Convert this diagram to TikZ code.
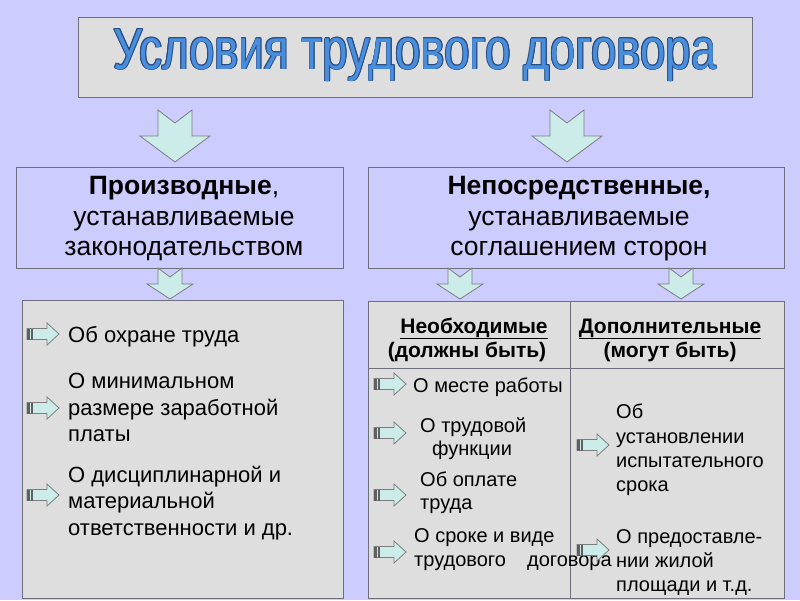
\documentclass[tikz,border=0pt]{standalone}
\usepackage{fontspec}
\setmainfont{Liberation Sans}
\usepackage{graphicx}
\definecolor{bg}{RGB}{204,204,255}
\definecolor{boxgray}{RGB}{222,222,222}
\definecolor{edgegray}{RGB}{110,110,125}
\definecolor{arrfill}{RGB}{204,236,234}
\definecolor{arredge}{RGB}{125,125,125}
\definecolor{tailc}{RGB}{95,95,95}
\definecolor{titleblue}{RGB}{72,142,220}
\definecolor{titledark}{RGB}{40,75,130}
\newcommand\titletext{\resizebox{603pt}{40pt}{\fontsize{56}{56}\selectfont Условия трудового договора}}
\tikzset{
  graybox/.style={draw=edgegray, line width=0.9pt, fill=boxgray, inner sep=0pt},
  lavbox/.style={draw=edgegray, line width=0.9pt, fill=bg, inner sep=0pt},
  arr/.style={draw=arredge, line width=0.8pt, fill=arrfill, line join=miter},
  midtxt/.style={font=\fontsize{26.5}{30}\selectfont, inner sep=0pt, anchor=base},
  lefttxt/.style={font=\fontsize{22}{27}\selectfont, inner sep=0pt, anchor=base west},
  rtxt/.style={font=\fontsize{20}{24}\selectfont, inner sep=0pt, anchor=base west},
  hdtxt/.style={font=\fontsize{21}{24}\selectfont\bfseries, inner sep=0pt, anchor=base},
  bigdown/.pic={\draw[arr] (-17,0) -- (0,13) -- (17,0) -- (17,26) -- (35,26) -- (0,52) -- (-35,26) -- (-17,26) -- cycle;},
  smalldown/.pic={\draw[arr] (-12,0) -- (0,9) -- (12,0) -- (12,16) -- (23,16) -- (0,31) -- (-23,16) -- (-12,16) -- cycle;},
  rarr/.pic={\draw[arr] (0,-5.5) -- (20,-5.5) -- (20,-11) -- (32,0) -- (20,11) -- (20,5.5) -- (0,5.5) -- cycle;
     \fill[tailc] (0,-5.5) rectangle (3,5.5);
     \fill[tailc] (4,-5.5) rectangle (6,5.5);},
}
\begin{document}
\begin{tikzpicture}[x=1pt,y=-1pt]
\path[use as bounding box, fill=bg] (0,0) rectangle (800,600);

% title
\node[graybox, minimum width=674, minimum height=80] (title) at (415,57) {};
\foreach \dx/\dy [count=\i] in {0.8/0,-0.8/0,0/0.8,0/-0.8,0.55/0.55,-0.55/0.55,0.55/-0.55,-0.55/-0.55}
  \node[inner sep=0pt, anchor=base, text=titledark] (tsh\i) at (415+\dx,69+\dy) {\titletext};
\node[inner sep=0pt, anchor=base, text=titleblue] (ttext) at (415,69) {\titletext};

% big arrows
\pic at (175,110) {bigdown};
\pic at (567,110) {bigdown};

% middle boxes
\node[lavbox, minimum width=327, minimum height=101] (prod) at (179.5,217.5) {};
\node[lavbox, minimum width=416, minimum height=101] (nep) at (576,217.5) {};
\node[midtxt] (p1) at (184,194) {\textbf{Производные},};
\node[midtxt] (p2) at (184,225) {устанавливаемые};
\node[midtxt] (p3) at (184,255) {законодательством};
\node[midtxt] (n1) at (579,194) {\textbf{Непосредственные,}};
\node[midtxt] (n2) at (579,225) {устанавливаемые};
\node[midtxt] (n3) at (579,255) {соглашением сторон};

% small arrows
\pic at (170,268) {smalldown};
\pic at (460,268) {smalldown};
\pic at (681,268) {smalldown};

% bottom boxes
\node[graybox, minimum width=321, minimum height=298] (lbox) at (182.5,449) {};
\node[graybox, minimum width=416, minimum height=297] (rbox) at (576,449.5) {};
\draw[edgegray, line width=0.9pt] (rbox.west |- 0,368) -- (rbox.east |- 0,368);
\draw[edgegray, line width=0.9pt] (570,0 |- rbox.north) -- (570,0 |- rbox.south);

% left box items
\node[lefttxt] (a1) at (68,342) {Об охране труда};
\node[lefttxt] (b1) at (68,388) {О минимальном};
\node[lefttxt] (b2) at (68,415) {размере заработной};
\node[lefttxt] (b3) at (68,441) {платы};
\node[lefttxt] (c1) at (68,482) {О дисциплинарной и};
\node[lefttxt] (c2) at (68,508) {материальной};
\node[lefttxt] (c3) at (68,535) {ответственности и др.};
\pic at (27,334) {rarr};
\pic at (27,408) {rarr};
\pic at (27,495) {rarr};

% headers
\node[hdtxt] (h1) at (474,333) {\underline{Необходимые}};
\node[hdtxt] (h2) at (467,357) {(должны быть)};
\node[hdtxt] (h3) at (670,333) {\underline{Дополнительные}};
\node[hdtxt] (h4) at (670,357) {(могут быть)};

% right box, left column
\node[rtxt] (r1) at (413,392) {О месте работы};
\node[rtxt] (r2) at (420,432) {О трудовой};
\node[rtxt] (r3) at (432,455) {функции};
\node[rtxt] (r4) at (420,486) {Об оплате};
\node[rtxt] (r5) at (420,509) {труда};
\node[rtxt] (r6) at (414,542) {О сроке и виде};
\node[rtxt] (r7) at (414,566) {трудового};
\node[rtxt] (r8) at (527,566) {договора};
% right box, right column
\node[rtxt] (s1) at (616,418) {Об};
\node[rtxt] (s2) at (616,443) {установлении};
\node[rtxt] (s3) at (616,467) {испытательного};
\node[rtxt] (s4) at (616,491) {срока};
\node[rtxt] (s5) at (616,543) {О предоставле-};
\node[rtxt] (s6) at (616,567) {нии жилой};
\node[rtxt] (s7) at (616,591) {площади и т.д.};

\pic at (374,384) {rarr};
\pic at (374,433) {rarr};
\pic at (374,495) {rarr};
\pic at (374,552) {rarr};
\pic at (577,445) {rarr};
\pic at (577,550) {rarr};
\end{tikzpicture}
\end{document}
